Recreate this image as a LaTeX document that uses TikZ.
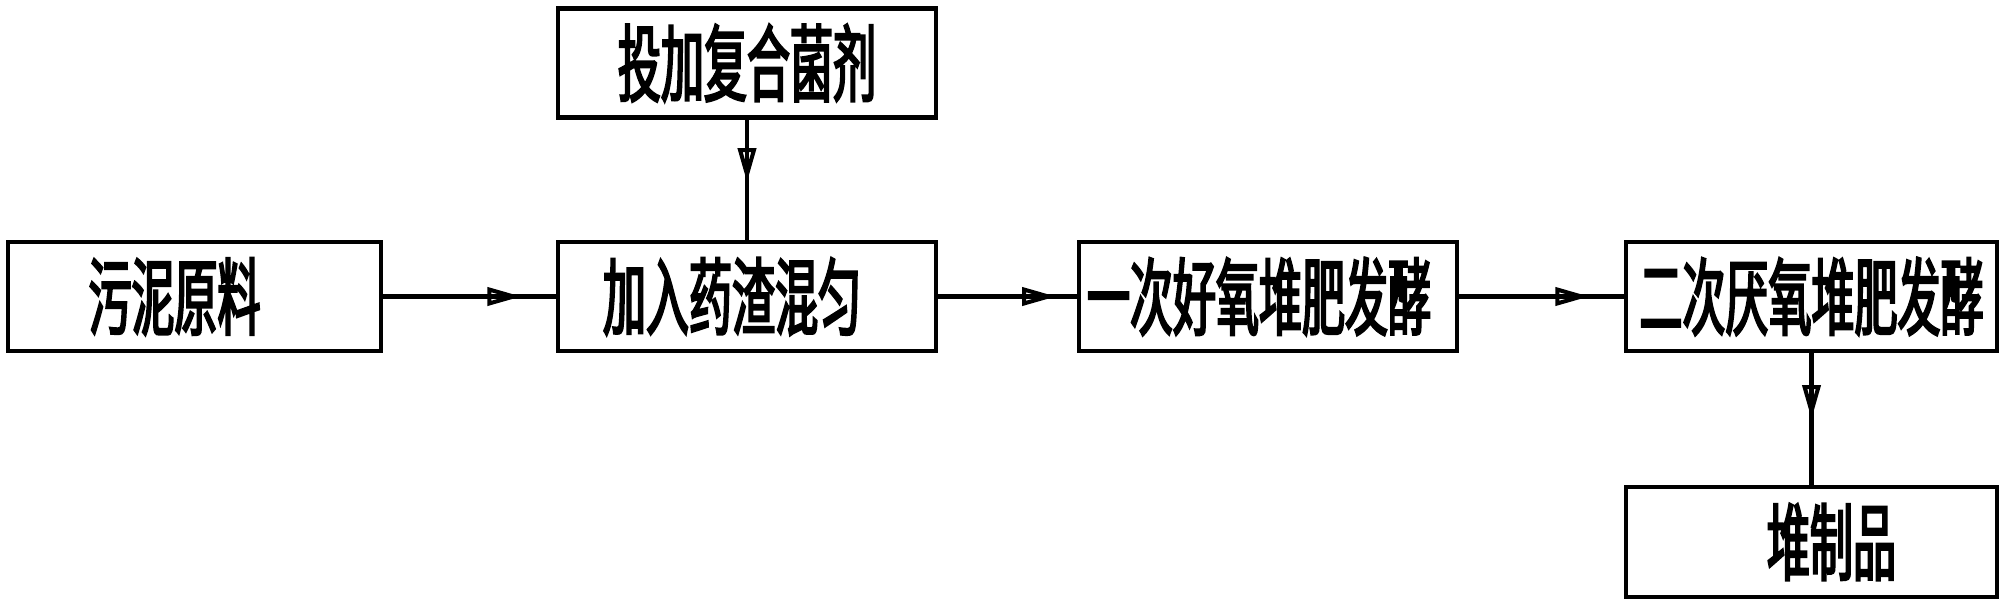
\documentclass[tikz,border=0pt]{standalone}
\usepackage{fontspec}
\usepackage{tikz}
\usetikzlibrary{arrows.meta, decorations.markings}
\newfontfamily\cjk[FakeStretch=0.51,FakeBold=2.5]{Noto Sans CJK SC}

\begin{document}
\begin{tikzpicture}[line width=1.15pt]
	\tikzset{box/.style={draw=black,rectangle,minimum height=1.09cm,inner sep=0pt,font=\cjk\fontsize{24pt}{24pt}\selectfont},
		flow/.style={draw=black,line width=1.15pt,postaction={decorate},decoration={markings,mark=at position #1 with {\arrow[line width=1.15pt]{Triangle[open,length=0.34cm,width=0.18cm]}}}}}
	
	\useasboundingbox (0,0) rectangle (20.11,6.11);
	
	\node[box,minimum width=3.73cm] (src) at (1.945,3.145) {污泥原料\kern0.4cm};
	\node[box,minimum width=3.78cm] (bac) at (7.47,5.48) {投加复合菌剂};
	\node[box,minimum width=3.78cm] (mix) at (7.47,3.145) {加入药渣混匀\kern0.3cm};
	\node[box,minimum width=3.78cm] (aer) at (12.68,3.145) {一次好氧堆肥发酵\kern0.18cm};
	\node[box,minimum width=3.71cm] (ana) at (18.115,3.145) {二次厌氧堆肥发酵};
	\node[box,minimum width=3.71cm,minimum height=1.10cm] (prd) at (18.115,0.69) {\kern0.4cm堆制品};
	
	% arrows
	\draw[flow=0.8] (src) -- (mix);
	\draw[flow=0.52] (bac) -- (mix);
	\draw[flow=0.85] (mix) -- (aer);
	\draw[flow=0.79] (aer) -- (ana);
	\draw[flow=0.5] (ana) -- (prd);
	
\end{tikzpicture}
\end{document}
